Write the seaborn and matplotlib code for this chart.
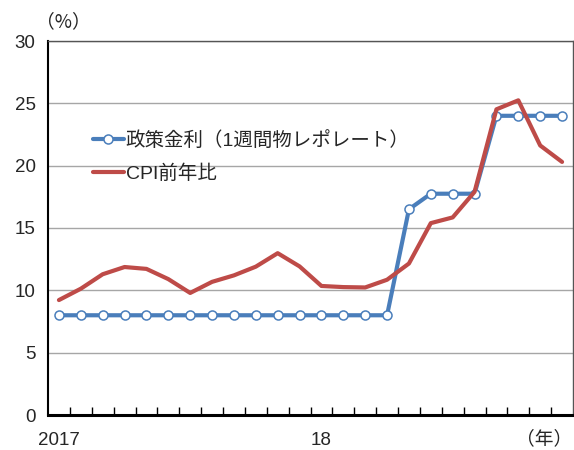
import matplotlib
matplotlib.use("Agg")
import matplotlib.pyplot as plt
import seaborn as sns
import pandas as pd
import numpy as np
from matplotlib.ticker import FixedLocator

months = list(range(24))
policy_rate = [8, 8, 8, 8, 8, 8, 8, 8, 8, 8, 8, 8, 8, 8, 8, 8,
               16.5, 17.75, 17.75, 17.75, 24, 24, 24, 24]
cpi_yoy = [9.22, 10.13, 11.29, 11.87, 11.72, 10.90, 9.79, 10.68, 11.20, 11.90, 12.98, 11.92,
           10.35, 10.26, 10.23, 10.85, 12.15, 15.39, 15.85, 17.90, 24.52, 25.24, 21.62, 20.30]
year_ticks = [0, 12]
year_labels = ["2017", "18"]
y_ticks = [0, 5, 10, 15, 20, 25, 30]
label_policy = "政策金利（1週間物レポレート）"
label_cpi = "CPI前年比"

sns.set_theme(style="white")
plt.rcParams['font.family'] = ['Liberation Sans', 'Noto Sans CJK JP', 'DejaVu Sans']

fig = plt.figure(figsize=(5.74, 4.5), dpi=100)
ax = fig.add_axes([48/574, 35/450, 525/574, 374/450])

df = pd.DataFrame({"month": months, "policy": policy_rate, "cpi": cpi_yoy})

sns.lineplot(data=df, x="month", y="policy", ax=ax, color="#4a7ebb", linewidth=3,
             marker="o", markersize=6.5, markerfacecolor="white", markeredgecolor="#4a7ebb",
             markeredgewidth=1.1, label=label_policy, zorder=3)
sns.lineplot(data=df, x="month", y="cpi", ax=ax, color="#be4b48", linewidth=3,
             label=label_cpi, zorder=4)

ax.set_xlim(-0.5, 23.5)
ax.set_ylim(0, 30)
ax.set_yticks(y_ticks)
ax.set_yticklabels([str(v) for v in y_ticks], fontsize=13.5)
ax.yaxis.grid(True, color="#a6a6a6", linewidth=1)
ax.set_axisbelow(True)
ax.tick_params(axis="y", direction="out", length=5, width=1, color="black", pad=4)

ax.set_xticks(year_ticks)
ax.set_xticklabels(year_labels, fontsize=13.5)
ax.xaxis.set_minor_locator(FixedLocator([k + 0.5 for k in range(23)]))
ax.tick_params(axis="x", which="major", length=0, pad=12)
ax.tick_params(axis="x", which="minor", direction="in", length=6, width=1, color="black", bottom=True)

ax.set_xlabel("")
ax.set_ylabel("")

for s in ["top", "right"]:
    ax.spines[s].set_color("#555555")
    ax.spines[s].set_linewidth(1)
ax.spines["left"].set_color("black")
ax.spines["left"].set_linewidth(1.5)
ax.spines["bottom"].set_color("black")
ax.spines["bottom"].set_linewidth(2.2)

leg = ax.legend(loc="upper left", bbox_to_anchor=(0.07, 0.78), frameon=False,
                fontsize=14, handlelength=1.6, handletextpad=0.1, labelspacing=0.75,
                borderaxespad=0)

fig.text(36/574, 1 - 22/450, "（%）", fontsize=13.5, ha="left", va="center",
         family=['Noto Sans CJK JP', 'DejaVu Sans'])
fig.text(572/574, 1 - 439/450, "（年）", fontsize=13.5, ha="right", va="center",
         family=['Noto Sans CJK JP', 'DejaVu Sans'])

fig.savefig("out.png", dpi=100)
